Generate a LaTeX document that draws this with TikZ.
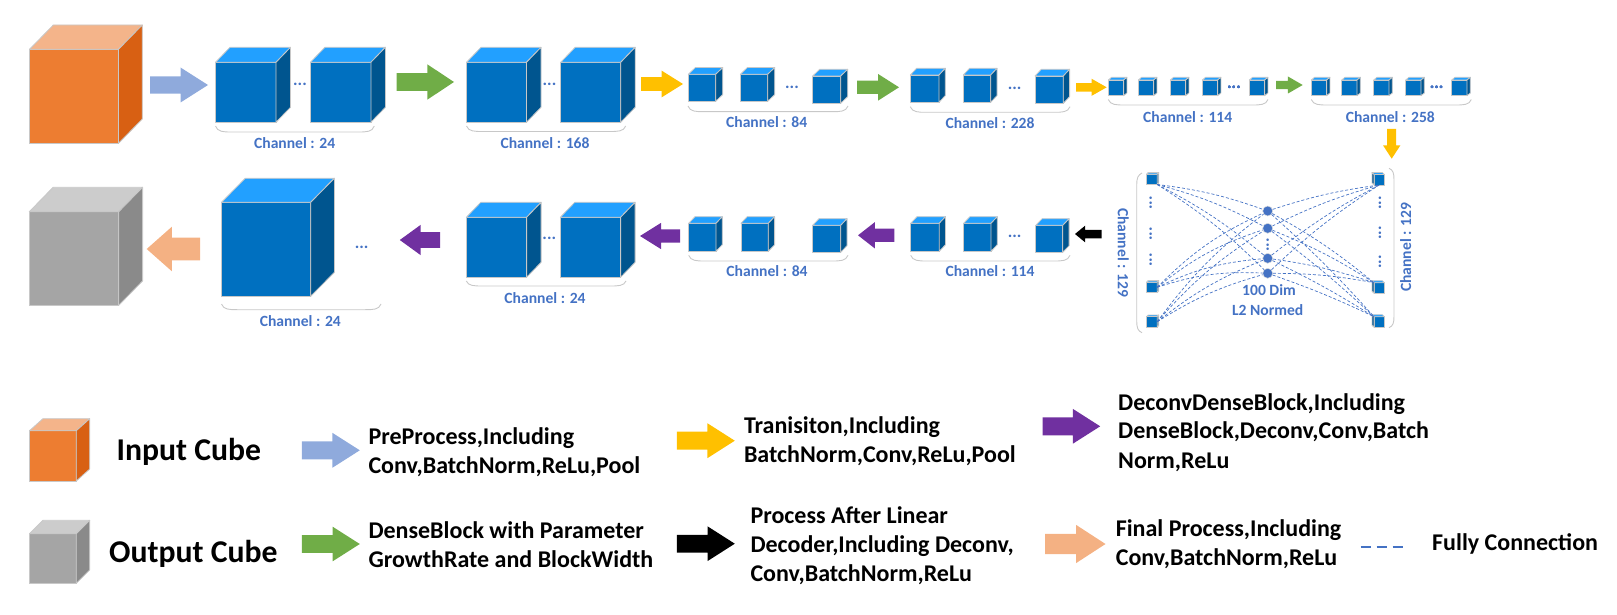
\documentclass[tikz,border=0pt]{standalone}
\usepackage{fontspec}
\setmainfont{Carlito}
\usetikzlibrary{shapes.arrows}
\definecolor{blueFront}{HTML}{0070C0}
\definecolor{blueTop}{HTML}{22A0FF}
\definecolor{blueSide}{HTML}{00558F}
\definecolor{orangeFront}{HTML}{ED7D31}
\definecolor{orangeTop}{HTML}{F4B48A}
\definecolor{orangeSide}{HTML}{D86013}
\definecolor{grayFront}{HTML}{A5A5A5}
\definecolor{grayTop}{HTML}{CCCCCC}
\definecolor{graySide}{HTML}{8A8A8A}
\definecolor{cubeEdge}{HTML}{C8C8C8}
\definecolor{labelBlue}{HTML}{4472C4}
\definecolor{preBlue}{HTML}{8FAADC}
\definecolor{denseGreen}{HTML}{70AD47}
\definecolor{transYellow}{HTML}{FFC000}
\definecolor{deconvPurple}{HTML}{7030A0}
\definecolor{finalPeach}{HTML}{F4B183}
\tikzset{
  cubeface/.style={draw=cubeEdge,line width=.8pt,inner sep=0pt,outer sep=0pt,anchor=north west},
  cubeside/.style={draw=cubeEdge,line width=.8pt,line join=round},
  flowarrow/.style n args={5}{single arrow,draw=none,fill=#1,inner xsep=0pt,inner ysep={(#3-2*#4)/2*1pt},outer sep=0pt,anchor=tail,
    minimum height=#2pt,minimum width=#3pt,single arrow head extend=#4pt,single arrow tip angle=#5},
  chanlabel/.style={text=labelBlue,inner sep=0pt,font=\fontsize{15.6}{17}\selectfont\bfseries},
  dotlabel/.style={text=labelBlue,inner sep=0pt,font=\fontsize{17}{17}\selectfont\bfseries},
  chanbrace/.style={draw=cubeEdge,line width=.9pt},
  neuron/.style={circle,fill=labelBlue,draw=cubeEdge!60,line width=.5pt,minimum size=10pt,inner sep=0pt},
  fcline/.style={draw=labelBlue,line width=.7pt,dash pattern=on 3pt off 2pt},
  legendtitle/.style={inner sep=0pt,font=\fontsize{31.7}{34}\selectfont\bfseries},
  legendtext/.style={inner sep=0pt,anchor=west,align=left,font=\fontsize{24}{29}\selectfont\bfseries},
}
% name, x, y, width, height, dx, dy, colour
\newcommand{\cubeblock}[8]{
  \node[cubeface,fill=#8Front,minimum width=#4pt,minimum height=#5pt] (#1) at (#2,#3) {};
  \draw[cubeside,fill=#8Top] (#1.north west) -- ++(#6,-#7) -- ++(#4,0) -- (#1.north east) -- cycle;
  \draw[cubeside,fill=#8Side] (#1.north east) -- ++(#6,-#7) -- ++(0,#5) -- (#1.south east) -- cycle;
}
% x1, x2, y, depth
\newcommand{\chanbrace}[4]{
  \draw[chanbrace] (#1,#3) .. controls +(2,#4) and +(-8,0) .. +(16,#4)
    -- ([shift={(-16,#4)}]#2,#3) .. controls +(8,0) and +(-2,#4) .. (#2,#3);
}
\begin{document}
\begin{tikzpicture}[x=1pt,y=-1pt]
\useasboundingbox (0,0) rectangle (1617,615);
% encoder row
\cubeblock{inCube}{29.5}{49.3}{89}{94}{23.8}{24.3}{orange}
\node[flowarrow={preBlue}{58}{34.6}{8.8}{65}] (preArrow) at (150,85) {};
\cubeblock{encA1}{215.5}{62.3}{60.5}{60}{14.5}{15}{blue}
\cubeblock{encA2}{310.4}{62.3}{60.5}{60}{14.5}{15}{blue}
\node[dotlabel] (dotsA) at (300,84) {...};
\chanbrace{215.5}{374.3}{126}{6}
\node[chanlabel] (chanA) at (294.7,143.3) {Channel : 24};
\node[flowarrow={denseGreen}{57.5}{35}{8.8}{67}] (denseA) at (396.5,82) {};
\cubeblock{encB1}{466.5}{62.3}{60}{60}{14.5}{15}{blue}
\cubeblock{encB2}{560.7}{62.3}{60}{60}{14.5}{15}{blue}
\node[dotlabel] (dotsB) at (549.5,84) {...};
\chanbrace{466.5}{625.7}{126}{5.5}
\node[chanlabel] (chanB) at (545,143.3) {Channel : 168};
\node[flowarrow={transYellow}{42}{26.3}{6.5}{64}] (transA) at (641,84) {};
\cubeblock{encC1}{688.3}{74.3}{27.4}{27}{7}{6.7}{blue}
\cubeblock{encC2}{740.3}{74.3}{27.4}{27}{7}{6.7}{blue}
\cubeblock{encC3}{812.7}{76}{28}{27.3}{7}{6.7}{blue}
\node[dotlabel] (dotsC) at (792,87.3) {...};
\chanbrace{688}{848}{106}{5.7}
\node[chanlabel] (chanC) at (766.7,122) {Channel : 84};
\node[flowarrow={denseGreen}{42}{26.3}{6.7}{65}] (denseB) at (857,87.3) {};
\cubeblock{encD1}{910.3}{75}{28.7}{27.3}{6.3}{6.7}{blue}
\cubeblock{encD2}{963.3}{75}{27.4}{27.3}{6.3}{6.7}{blue}
\cubeblock{encD3}{1035}{76}{28.3}{27.3}{6.3}{6.7}{blue}
\node[dotlabel] (dotsD) at (1014.7,88) {...};
\chanbrace{910.3}{1070}{106.7}{5.6}
\node[chanlabel] (chanD) at (990,123) {Channel : 228};
\node[flowarrow={transYellow}{30.7}{16.7}{4.3}{59}] (transB) at (1076,87.3) {};
\foreach \x/\n in {1108.3/1,1138.3/2,1170.3/3,1202.3/4,1249.3/5}
  \cubeblock{encE\n}{\x}{80}{15.3}{15.7}{3.3}{2.7}{blue}
\node[dotlabel] (dotsE) at (1234,87.3) {...};
\chanbrace{1108.3}{1268}{99.5}{5.5}
\node[chanlabel] (chanE) at (1187.7,117) {Channel : 114};
\node[flowarrow={denseGreen}{26.7}{16.6}{4.3}{60}] (denseC) at (1276,85) {};
\foreach \x/\n in {1311.3/1,1341.7/2,1373.7/3,1405.7/4,1451.7/5}
  \cubeblock{encF\n}{\x}{80}{15.3}{15.7}{3.3}{2.7}{blue}
\node[dotlabel] (dotsF) at (1436.7,87.3) {...};
\chanbrace{1311.3}{1471.3}{99.5}{5.5}
\node[chanlabel] (chanF) at (1390.3,117) {Channel : 258};
\node[flowarrow={transYellow}{29.7}{17}{4.2}{66},rotate=-90] (transC) at (1391.7,129) {};
% linear part
\cubeblock{inL1}{1146.7}{174}{10.5}{10.5}{1.5}{1.5}{blue}
\cubeblock{inL2}{1146.7}{282}{10.5}{10.5}{1.5}{1.5}{blue}
\cubeblock{inL3}{1146.7}{316.5}{10.5}{10.5}{1.5}{1.5}{blue}
\foreach \y/\n in {174.5/1,282.7/2,316.7/3}{
  \node[cubeface,fill=blueFront,minimum width=10.3pt,minimum height=10.5pt] (outR\n) at (1374,\y) {};
  \draw[cubeside,fill=blueTop] (outR\n.north west) -- ++(-2,-2) -- ++(10.3,0) -- (outR\n.north east) -- cycle;
  \draw[cubeside,fill=blueSide] (outR\n.north west) -- ++(-2,-2) -- ++(0,10.5) -- (outR\n.south west) -- cycle;
}
\foreach \y/\n in {211/1,228.3/2,258.3/3,273.3/4}
  \node[neuron] (hid\n) at (1267.7,\y) {};
\foreach \n in {1,2,3,4}{
  \draw[fcline] (inL1.south east) to[bend left=6] (hid\n);
  \draw[fcline] (inL2.east) to[bend left=10] (hid\n);
  \draw[fcline] (inL3.east) to[bend left=8] (hid\n);
  \draw[fcline] (hid\n) to[bend left=5] (outR1.south);
  \draw[fcline] (hid\n) to[bend left=5] (outR2.north west);
  \draw[fcline] (hid\n) to[bend left=3] (outR3.north west);
}
\foreach \y in {203,234,260}
  \node[dotlabel,rotate=90] at (1150.7,\y) {...};
\foreach \y in {203,233,262}
  \node[dotlabel,rotate=90] at (1380,\y) {...};
\node[dotlabel,rotate=90] (dotsHid) at (1267.7,245) {...};
\node[chanlabel] (dimLabel) at (1269,290) {100 Dim};
\node[chanlabel] (normLabel) at (1267.7,310) {L2 Normed};
\draw[chanbrace] (1142,173) .. controls (1138,175) and (1136.7,178) .. (1136.7,185) -- (1136.7,321)
  .. controls (1136.7,328) and (1138,331) .. (1142,332.7);
\draw[chanbrace] (1389,168.3) .. controls (1393,170) and (1394,173) .. (1394,180) -- (1394,316)
  .. controls (1394,323) and (1393,326) .. (1389,327.7);
\node[chanlabel,rotate=-90] (chanL) at (1123.3,252.7) {Channel : 129};
\node[chanlabel,rotate=90] (chanR) at (1405.7,247.3) {Channel : 129};
% decoder row
\node[flowarrow={black}{26.7}{16.3}{4.1}{79},rotate=180] (postArrow) at (1101.7,234) {};
\cubeblock{decF1}{910.7}{223.3}{28.5}{28}{6.3}{6.6}{blue}
\cubeblock{decF2}{963.6}{223.3}{27.4}{28}{6.3}{6.6}{blue}
\cubeblock{decF3}{1035.8}{225.3}{27}{27}{6.3}{6.6}{blue}
\node[dotlabel] (dotsG) at (1014.7,236.5) {...};
\chanbrace{910.7}{1070}{255.3}{5.7}
\node[chanlabel] (chanG) at (990,271) {Channel : 114};
\node[flowarrow={deconvPurple}{36.4}{26}{6.6}{76},rotate=180] (deconvA) at (894.4,235.3) {};
\cubeblock{decE1}{688.7}{223.3}{27.3}{28}{6.3}{6.6}{blue}
\cubeblock{decE2}{740.9}{223.3}{27.4}{28}{6.3}{6.6}{blue}
\cubeblock{decE3}{812.7}{225.3}{28}{27}{6.3}{6.6}{blue}
\chanbrace{688.7}{848}{255.3}{5.7}
\node[chanlabel] (chanH) at (767,270.7) {Channel : 84};
\node[flowarrow={deconvPurple}{40}{26}{6.6}{64},rotate=180] (deconvB) at (680,236) {};
\cubeblock{decD1}{466.3}{217.3}{60.3}{60}{14.5}{15}{blue}
\cubeblock{decD2}{560.3}{217.3}{60.3}{60}{14.5}{15}{blue}
\node[dotlabel] (dotsI) at (549.3,238) {...};
\chanbrace{466.3}{626}{281}{5}
\node[chanlabel] (chanI) at (545,298) {Channel : 24};
\node[flowarrow={deconvPurple}{40.2}{30}{7.3}{72},rotate=180] (deconvC) at (440,240) {};
\cubeblock{decC1}{221.5}{202.3}{89.2}{94}{23.7}{24}{blue}
\node[dotlabel] (dotsJ) at (361.6,247) {...};
\chanbrace{221.5}{381}{304}{5.7}
\node[chanlabel] (chanJ) at (300.3,321.3) {Channel : 24};
\node[flowarrow={finalPeach}{53.3}{44.3}{11}{83},rotate=180] (finalArrow) at (200,249) {};
\cubeblock{outCube}{29.3}{211.7}{89.5}{93.6}{23.8}{24.4}{gray}
% legend
\cubeblock{keyIn}{29.5}{430.7}{46.8}{50.3}{13.4}{12}{orange}
\node[legendtitle] (keyInText) at (188.8,452) {Input Cube};
\node[flowarrow={preBlue}{58}{34.4}{8.4}{65}] (keyPre) at (301.8,450.3) {};
\node[legendtext] (keyPreText) at (368.3,452) {PreProcess,Including\\Conv,BatchNorm,ReLu,Pool};
\node[flowarrow={transYellow}{58}{34.4}{8.4}{65}] (keyTrans) at (676.8,440.7) {};
\node[legendtext] (keyTransText) at (743.8,441.5) {Tranisiton,Including\\BatchNorm,Conv,ReLu,Pool};
\node[flowarrow={deconvPurple}{57.5}{34.4}{8.4}{65}] (keyDeconv) at (1042.7,426.3) {};
\node[legendtext] (keyDeconvText) at (1118,432.2) {DeconvDenseBlock,Including\\DenseBlock,Deconv,Conv,Batch\\Norm,ReLu};
\cubeblock{keyOut}{29.5}{533.7}{46.8}{49.6}{13.4}{13.4}{gray}
\node[legendtitle] (keyOutText) at (193.3,553.7) {Output Cube};
\node[flowarrow={denseGreen}{58}{34.3}{8.4}{65}] (keyDense) at (301.8,544) {};
\node[legendtext] (keyDenseText) at (368.3,544.8) {DenseBlock with Parameter\\GrowthRate and BlockWidth};
\node[flowarrow={black}{58}{34.3}{8.4}{65}] (keyPost) at (676.8,543.7) {};
\node[legendtext] (keyPostText) at (750.3,545.5) {Process After Linear\\Decoder,Including Deconv,\\Conv,BatchNorm,ReLu};
\node[flowarrow={finalPeach}{60.5}{37.7}{9}{66}] (keyFinal) at (1045,544) {};
\node[legendtext] (keyFinalText) at (1115.6,544.6) {Final Process,Including\\Conv,BatchNorm,ReLu};
\coordinate (keyDashA) at (1360.6,547);
\coordinate (keyDashB) at (1403,547);
\draw[fcline,line width=2.2pt,dash pattern=on 10pt off 6pt] (keyDashA) -- (keyDashB);
\node[legendtext] (keyDashText) at (1432,544.3) {Fully Connection};
\end{tikzpicture}
\end{document}
